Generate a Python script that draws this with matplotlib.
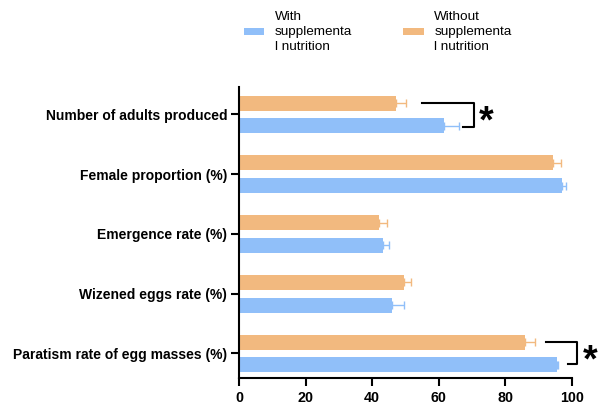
import matplotlib.pyplot as plt
import numpy as np

plt.rcParams['font.family'] = ['Liberation Sans', 'DejaVu Sans']

categories = ['Paratism rate of egg masses (%)', 'Wizened eggs rate (%)',
              'Emergence rate (%)', 'Female proportion (%)', 'Number of adults produced']
with_mean = [95.4, 46.0, 43.2, 97.1, 61.5]
with_err = [0.5, 3.6, 1.7, 1.1, 4.5]
without_mean = [86.0, 49.4, 42.0, 94.3, 47.0]
without_err = [3.0, 2.4, 2.4, 2.5, 3.2]
labels = ['With\nsupplementa\nl nutrition', 'Without\nsupplementa\nl nutrition']

blue = '#90bff9'
orange = '#f2b97f'

fig = plt.figure(figsize=(5.98, 4.04), dpi=100)
ax = fig.add_axes([0.3997, 0.0644, 0.5568, 0.7203])

y = np.arange(len(categories))
h = 0.25
off = 0.19

b1 = ax.barh(y - off, with_mean, h, color=blue, label=labels[0])
b2 = ax.barh(y + off, without_mean, h, color=orange, label=labels[1])
ax.errorbar(with_mean, y - off, xerr=[np.zeros(5), with_err], fmt='none',
            ecolor=blue, elinewidth=1, capsize=2.6)
ax.errorbar(without_mean, y + off, xerr=[np.zeros(5), without_err], fmt='none',
            ecolor=orange, elinewidth=1, capsize=2.6)

ax.set_xlim(0, 100)
ax.set_ylim(-0.41, 4.46)
ax.set_xticks([0, 20, 40, 60, 80, 100])
ax.set_yticks(y)
ax.set_yticklabels(categories, fontweight='bold', fontsize=10)
for t in ax.get_xticklabels():
    t.set_fontweight('bold')
    t.set_fontsize(10.3)
ax.tick_params(axis='both', width=1.5, length=6, color='black')
ax.tick_params(axis='x', pad=3.2)
ax.tick_params(axis='y', pad=2.5)
for s in ['top', 'right']:
    ax.spines[s].set_visible(False)
for s in ['left', 'bottom']:
    ax.spines[s].set_linewidth(1.5)

# significance brackets
ax.plot([55.1, 70.5, 70.5, 67.2], [4.19, 4.19, 3.79, 3.79], color='black',
        lw=1.5, clip_on=False)
ax.text(74.1, 3.87, '*', fontsize=27, fontweight='bold', ha='center', va='center')
ax.plot([92.3, 101.6, 101.6, 98.7], [0.19, 0.19, -0.18, -0.18], color='black',
        lw=1.5, clip_on=False)
ax.text(105.4, -0.13, '*', fontsize=27, fontweight='bold', ha='center', va='center',
        clip_on=False)

fig.legend(handles=[b1, b2], loc='center', bbox_to_anchor=(0.6316, 0.921), ncol=2,
           frameon=False, fontsize=9.7, handlelength=1.5, handleheight=0.48,
           columnspacing=3.8, handletextpad=0.8, labelspacing=0.2)
for t in fig.legends[0].get_texts():
    t.set_linespacing(1.3)

fig.savefig('out.png', dpi=100)
